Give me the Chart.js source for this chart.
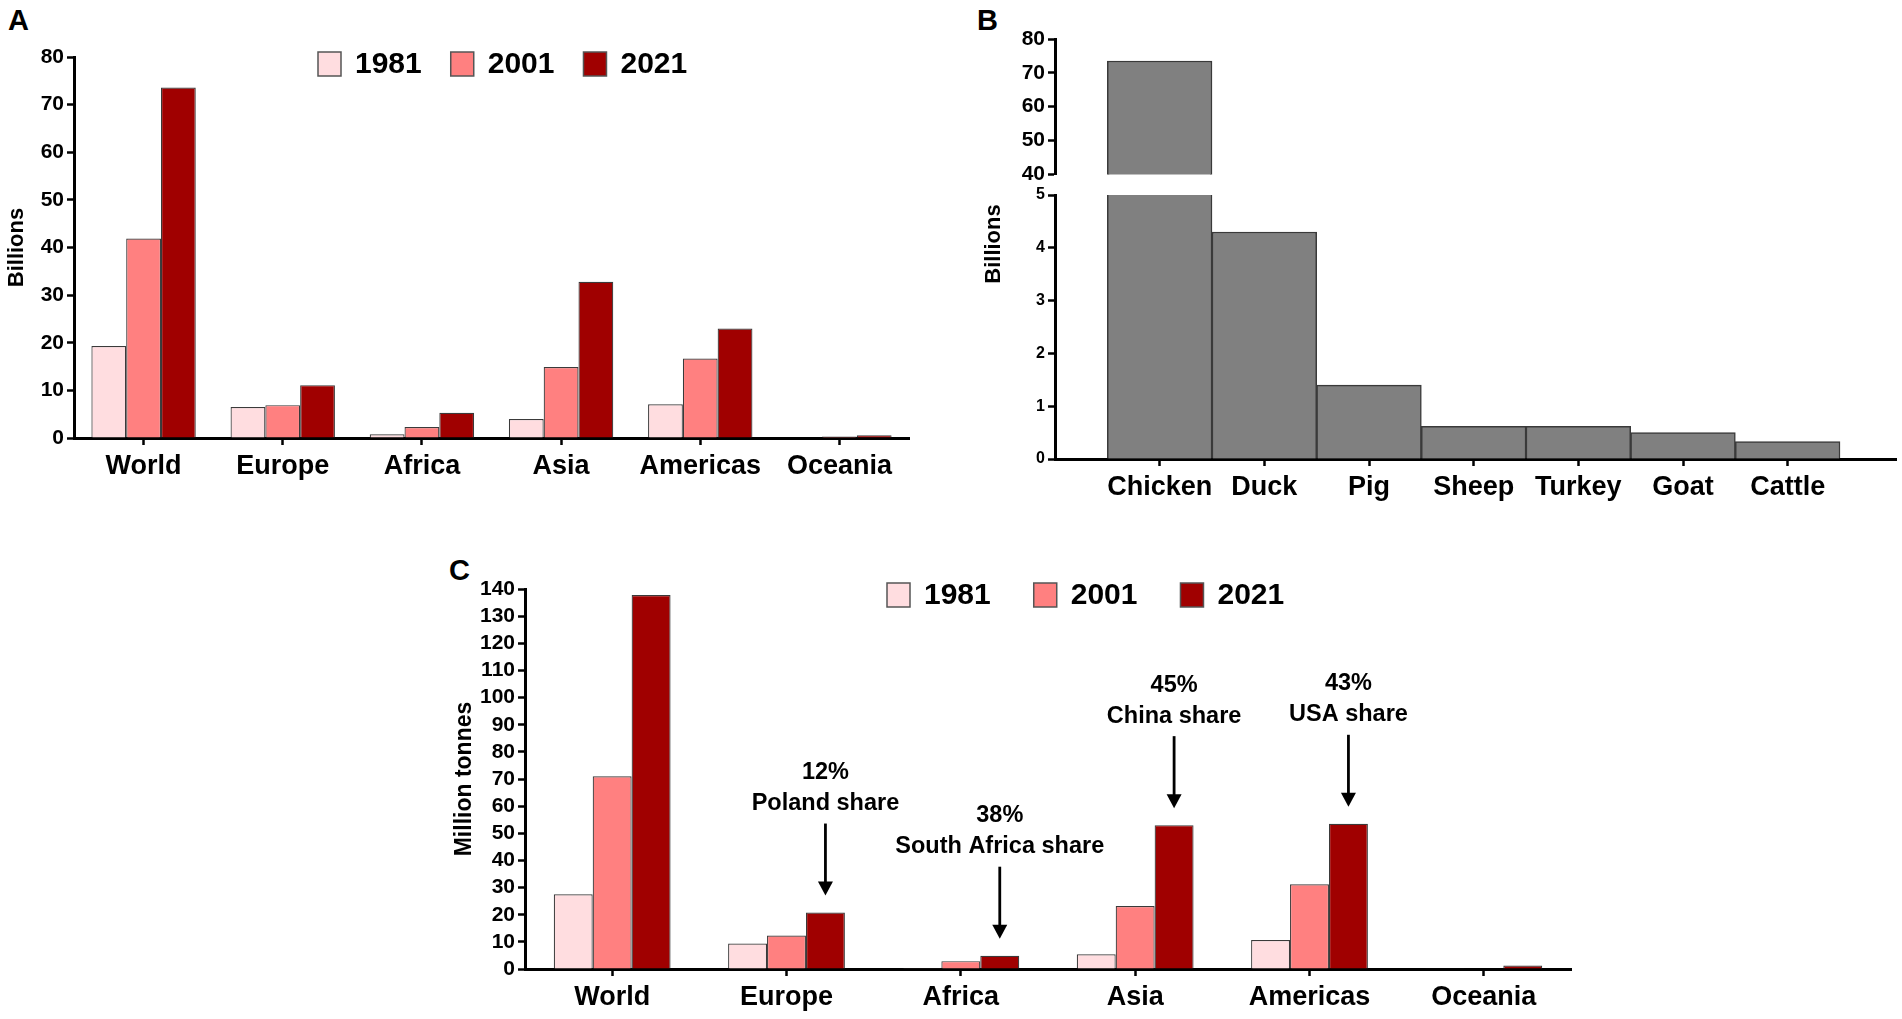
<!DOCTYPE html>
<html>
<head>
<meta charset="utf-8">
<script src="https://cdn.jsdelivr.net/npm/chart.js@4.4.1/dist/chart.umd.min.js"></script>
<style>
html, body { margin: 0; padding: 0; background: #fff; }
body { width: 1902px; height: 1019px; position: relative; overflow: hidden; font-family: "Liberation Sans", Arial, sans-serif; }
canvas { position: absolute; }
.panel { position: absolute; font-weight: bold; font-size: 29px; line-height: 1; color: #000; }
</style>
</head>
<body>
<div class="panel" style="left:8px;top:6px">A</div>
<div class="panel" style="left:977px;top:6px">B</div>
<div class="panel" style="left:449px;top:556px">C</div>
<canvas id="chartA" width="940" height="520" style="left:0;top:0"></canvas>
<canvas id="chartB1" width="942" height="190" style="left:960px;top:0"></canvas>
<canvas id="chartB2" width="942" height="360" style="left:960px;top:170px"></canvas>
<canvas id="chartC" width="1160" height="479" style="left:440px;top:540px"></canvas>
<script>
const regions = ["World", "Europe", "Africa", "Asia", "Americas", "Oceania"];
const years = ["1981", "2001", "2021"];
const yearColors = ["#ffdde0", "#ff8080", "#a00000"];

// A - billions of animals, by region
const headsA1981 = [19.3, 6.5, 0.8, 4.0, 7.1, 0.1];
const headsA2001 = [41.9, 6.9, 2.3, 14.9, 16.7, 0.3];
const headsA2021 = [73.6, 11.1, 5.3, 32.8, 23.0, 0.6];

// B - billions of animals, by species (2021)
const animals = ["Chicken", "Duck", "Pig", "Sheep", "Turkey", "Goat", "Cattle"];
const headsB = [73.5, 4.3, 1.4, 0.62, 0.62, 0.5, 0.33];

// C - million tonnes, by region
const meatC1981 = [27.5, 9.4, 0.3, 5.4, 10.7, 0.1];
const meatC2001 = [71.0, 12.3, 2.9, 23.2, 31.2, 0.2];
const meatC2021 = [137.8, 20.8, 4.9, 53.0, 53.5, 1.3];

const shareNotes = [
	{region: "Europe", share: "12%", label: "Poland share"},
	{region: "Africa", share: "38%", label: "South Africa share"},
	{region: "Asia", share: "45%", label: "China share"},
	{region: "Americas", share: "43%", label: "USA share"}
];

const FONT = '"Liberation Sans", Arial, Helvetica, sans-serif';
Chart.defaults.font.family = FONT;
Chart.defaults.font.weight = "bold";
Chart.defaults.color = "#000";
Chart.defaults.animation = false;

const tickGrid = {
	display: true,
	drawOnChartArea: false,
	drawTicks: true,
	tickLength: 7,
	tickWidth: 2.5,
	tickColor: "#000",
	offset: false
};
const axisBorder = {display: true, color: "#000", width: 3};

// legend: coloured box + year, drawn inside the plot
const boxLegend = {
	id: "boxLegend",
	afterDraw(chart, args, opts) {
		const ctx = chart.ctx;
		let x = opts.x;
		ctx.save();
		ctx.font = "bold 30px " + FONT;
		ctx.textBaseline = "middle";
		chart.data.datasets.forEach(ds => {
			ctx.fillStyle = ds.backgroundColor;
			ctx.fillRect(x, opts.y - 12, 23, 24);
			ctx.strokeStyle = "#555";
			ctx.lineWidth = 1.5;
			ctx.strokeRect(x, opts.y - 12, 23, 24);
			ctx.fillStyle = "#000";
			ctx.fillText(ds.label, x + 37, opts.y + 1);
			x += 37 + ctx.measureText(ds.label).width + opts.gap;
		});
		ctx.restore();
	}
};

// free placed rotated axis title (panel B spans two axes)
const sideTitle = {
	id: "sideTitle",
	afterDraw(chart, args, opts) {
		const ctx = chart.ctx;
		ctx.save();
		ctx.translate(opts.x, opts.y);
		ctx.rotate(-Math.PI / 2);
		ctx.font = "bold 22px " + FONT;
		ctx.textAlign = "center";
		ctx.textBaseline = "middle";
		ctx.fillStyle = "#000";
		ctx.fillText(opts.text, 0, 0);
		ctx.restore();
	}
};

// arrows with country share above the 2021 bars
const shareArrows = {
	id: "shareArrows",
	afterDatasetsDraw(chart) {
		const ctx = chart.ctx;
		const bars = chart.getDatasetMeta(2).data;
		ctx.save();
		ctx.fillStyle = "#000";
		ctx.strokeStyle = "#000";
		ctx.textAlign = "center";
		ctx.textBaseline = "middle";
		ctx.font = "bold 23.5px " + FONT;
		shareNotes.forEach(n => {
			const bar = bars[regions.indexOf(n.region)];
			const x = bar.x;
			const tip = bar.y - 17;
			const tail = tip - 72;
			ctx.lineWidth = 2.8;
			ctx.beginPath();
			ctx.moveTo(x, tail);
			ctx.lineTo(x, tip - 12);
			ctx.stroke();
			ctx.beginPath();
			ctx.moveTo(x - 7.5, tip - 14);
			ctx.lineTo(x + 7.5, tip - 14);
			ctx.lineTo(x, tip);
			ctx.closePath();
			ctx.fill();
			ctx.fillText(n.label, x, tail - 20);
			ctx.fillText(n.share, x, tail - 51);
		});
		ctx.restore();
	}
};

// x axis holding named categories on a linear scale, so the gaps
// before the first and after the last bar can be set freely
function namedX(names, min, max, show) {
	return {
		type: "linear",
		min: min, max: max,
		offset: false,
		display: show,
		grid: tickGrid,
		border: axisBorder,
		afterBuildTicks: axis => { axis.ticks = names.map((n, i) => ({value: i})); },
		ticks: {callback: v => names[v], font: {size: 27}, padding: 5, maxRotation: 0, autoSkip: false},
		afterFit: s => { if (show) s.height = 50; }
	};
}

function yearSets(series, catPct) {
	return years.map((y, i) => ({
		label: y,
		data: series[i].map((v, j) => ({x: j, y: v})),
		backgroundColor: yearColors[i],
		borderColor: "#3a3a3a",
		borderWidth: 1.2,
		categoryPercentage: catPct,
		barPercentage: 1
	}));
}

// ---------- A ----------
new Chart(document.getElementById("chartA"), {
	type: "bar",
	data: {datasets: yearSets([headsA1981, headsA2001, headsA2021], 0.75)},
	options: {
		responsive: false,
		layout: {padding: {left: 0, top: 57, right: 31, bottom: 32}},
		plugins: {
			legend: {display: false},
			tooltip: {enabled: false},
			boxLegend: {x: 318, y: 64, gap: 29}
		},
		scales: {
			x: namedX(regions, -0.5, 5.5, true),
			y: {
				min: 0, max: 80,
				grid: tickGrid,
				border: axisBorder,
				ticks: {stepSize: 10, font: {size: 21}, padding: 3, autoSkip: false},
				title: {display: true, text: "Billions", font: {size: 22}, padding: {top: 4, bottom: 0}},
				afterFit: s => { s.width = 74; }
			}
		}
	},
	plugins: [boxLegend]
});

// ---------- B (broken axis: two stacked charts) ----------
function animalSet() {
	return [{
		label: "Billions",
		data: headsB.map((v, i) => ({x: i, y: v})),
		backgroundColor: "#808080",
		borderColor: "#3a3a3a",
		borderWidth: 1.5,
		categoryPercentage: 1,
		barPercentage: 1
	}];
}

new Chart(document.getElementById("chartB1"), {
	type: "bar",
	data: {datasets: animalSet()},
	options: {
		responsive: false,
		layout: {padding: {left: 0, top: 39, right: 6, bottom: 13}},
		plugins: {legend: {display: false}, tooltip: {enabled: false}},
		scales: {
			x: namedX(animals, -1, 7.035, false),
			y: {
				min: 40, max: 80,
				grid: tickGrid,
				border: axisBorder,
				ticks: {stepSize: 10, font: {size: 21}, padding: 3, autoSkip: false},
				afterFit: s => { s.width = 95; }
			}
		}
	}
});

new Chart(document.getElementById("chartB2"), {
	type: "bar",
	data: {datasets: animalSet()},
	options: {
		responsive: false,
		layout: {padding: {left: 0, top: 25, right: 6, bottom: 21}},
		plugins: {
			legend: {display: false},
			tooltip: {enabled: false},
			sideTitle: {text: "Billions", x: 34, y: 74}
		},
		scales: {
			x: namedX(animals, -1, 7.035, true),
			y: {
				min: 0, max: 5,
				grid: tickGrid,
				border: axisBorder,
				ticks: {stepSize: 1, font: {size: 16}, padding: 3, autoSkip: false},
				afterFit: s => { s.width = 95; }
			}
		}
	},
	plugins: [sideTitle]
});

// ---------- C ----------
new Chart(document.getElementById("chartC"), {
	type: "bar",
	data: {datasets: yearSets([meatC1981, meatC2001, meatC2021], 0.67)},
	options: {
		responsive: false,
		layout: {padding: {left: 0, top: 49, right: 29, bottom: 0}},
		plugins: {
			legend: {display: false},
			tooltip: {enabled: false},
			boxLegend: {x: 447, y: 55, gap: 43}
		},
		scales: {
			x: namedX(regions, -0.5, 5.5, true),
			y: {
				min: 0, max: 140,
				grid: tickGrid,
				border: axisBorder,
				ticks: {stepSize: 10, font: {size: 21}, padding: 3, autoSkip: false},
				title: {display: true, text: "Million tonnes", font: {size: 23}, padding: {top: 11, bottom: 0}},
				afterFit: s => { s.width = 85; }
			}
		}
	},
	plugins: [boxLegend, shareArrows]
});
</script>
</body>
</html>
